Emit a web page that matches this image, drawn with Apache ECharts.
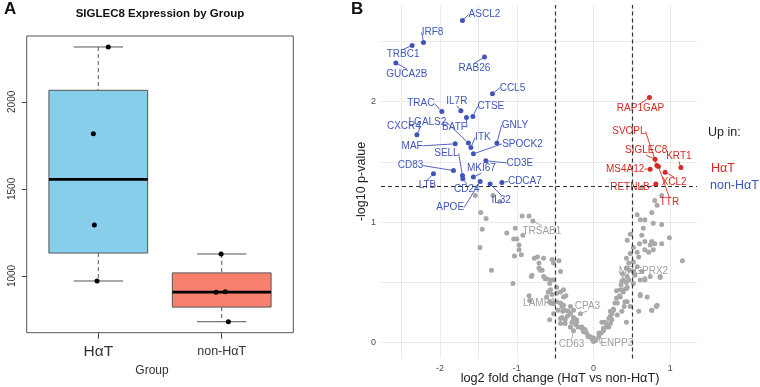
<!DOCTYPE html>
<html>
<head>
<meta charset="utf-8">
<script src="https://cdn.jsdelivr.net/npm/echarts@6/dist/echarts.min.js"></script>
<style>
html, body { margin: 0; padding: 0; background: #fff; }
#main { width: 760px; height: 387px; }
</style>
</head>
<body>
<div id="main"></div>
<script>
// ---- panel A: boxplot ----
var groups = ['HαT', 'non-HαT'];
var groupPos = [1, 2];
// min, lower hinge, median, upper hinge, max
var boxStats = [
    [971, 1131.5, 1554.5, 2066, 2315],
    [737, 821, 907, 1017.5, 1126]
];
var boxColors = ['#87CEEB', '#F7806F'];
var hatValues = [2315, 1817, 1292, 971];
var hatJitter = [1.081, 0.960, 0.968, 0.990];
var nonHatValues = [1126, 907, 909, 737];
var nonHatJitter = [1.995, 1.954, 2.029, 2.054];
var boxTicks = [1000, 1500, 2000];

// ---- panel B: volcano ----
var downGenes = ['ASCL2', 'IRF8', 'TRBC1', 'GUCA2B', 'RAB26', 'CCL5', 'TRAC', 'IL7R', 'CTSE', 'BATF',
    'LGALS2', 'CXCR4', 'MAF', 'ITK', 'GNLY', 'SPOCK2', 'SELL', 'CD3E', 'CD83', 'MKI67',
    'LTB', 'CD24', 'CDCA7', 'IL32', 'APOE'];
var downLogFC = [-1.708, -2.216, -2.364, -2.576, -1.421, -1.317, -1.977, -1.729, -1.572, -1.656,
    -1.630, -2.302, -1.803, -1.598, -1.259, -1.565, -1.708, -1.403, -1.825, -1.565,
    -2.086, -1.703, -1.194, -1.347, -1.477];
var downLogP = [2.672, 2.490, 2.465, 2.319, 2.368, 2.064, 1.917, 1.923, 1.876, 1.867,
    1.655, 1.724, 1.649, 1.618, 1.655, 1.566, 1.386, 1.508, 1.427, 1.373,
    1.400, 1.359, 1.328, 1.315, 1.336];

var upGenes = ['RAP1GAP', 'SIGLEC8', 'SVOPL', 'TTR', 'MS4A12', 'XCL2', 'KRT1', 'RETNLB'];
var upLogFC = [0.730, 0.804, 0.827, 0.847, 0.739, 0.935, 1.140, 0.814];
var upLogP = [2.033, 1.522, 1.469, 1.461, 1.439, 1.414, 1.452, 1.315];

var nsGenes = ['TRSAB1', 'LAMP1', 'CPA3', 'CD63', 'ENPP3', 'MRGPRX2'];
var nsGeneLogFC = [-0.79, -0.56, -0.17, -0.26, 0.07, 0.43];
var nsGeneLogP = [1.01, 0.33, 0.24, 0.10, 0.05, 0.50];

var greyLogFC = [-1.54, -1.31, -1.22, -1.47, -1.40, -1.45, -1.48, -1.33, -1.05,
    -0.93, -0.84, -1.13, -1.02, -1.04, -1.00, -0.92, -0.97, -0.97, -0.94, -1.03,
    -0.77, -0.73, -0.65, -0.71, -0.71, -0.67, -0.81, -0.65, -0.61,
    -0.54, -0.52, -0.45, -0.43, -0.52, -0.57, -0.56, -0.48, -0.39, -0.36,
    -0.84, -0.83, -0.61, -0.57, -0.52, -0.43, -0.46, -0.40, -0.39, -0.30, -0.26,
    -0.34, -0.41, -0.57, -0.26, -0.22, -0.28, -0.23, -0.20, -0.15, -0.11, -0.09, -0.04, -0.02, 0.00, -0.07, -0.13, -0.30, -0.43, -0.37, -0.33, -0.48,
    -0.80, -0.69, -0.63, -0.56, -0.59, -0.54, -0.43, -0.39, -0.48, -0.41, -0.37, -0.30, -0.26, -0.22, -0.15, -0.11, -0.07, -0.02, -0.52, -0.43, -0.37, -0.30,
    0.03, 0.10, 0.13, 0.17, 0.15, 0.22, 0.20, 0.24, 0.26, 0.22, 0.28, 0.30, 0.34, 0.30, 0.35, 0.39, 0.36, 0.43, 0.31, 0.37, 0.43, 0.40, 0.44,
    0.39, 0.44, 0.38, 0.43, 0.47, 0.46, 0.43, 0.48, 0.44, 0.48, 0.52, 0.57, 0.59, 0.52, 0.57, 0.54, 0.61, 0.63, 0.67, 0.61, 0.52,
    0.57, 0.61, 0.67, 0.76, 0.78, 0.65, 0.63, 0.60, 0.67, 0.74, 0.76, 0.67, 0.72, 0.78, 0.80, 0.89, 0.89, 0.99, 0.83, 0.89, 0.80, 1.16, 0.82, 0.76, 0.87, 0.70, 0.63, 0.52,
    0.00, 0.07, 0.13, 0.17, 0.22, 0.26, 0.31, 0.35, 0.39, 0.44, 0.46, 0.37, 0.41, 0.48, 0.61, 0.59, 0.76, 0.83, 0.67, 0.74, 0.87, 0.20, 0.11, 0.24];
var greyLogP = [1.22, 1.22, 1.17, 1.08, 1.03, 0.94, 0.79, 0.60, 0.49,
    1.05, 1.05, 0.91, 0.95, 0.86, 0.86, 0.89, 0.81, 0.77, 0.73, 0.72,
    0.70, 0.71, 0.70, 0.66, 0.62, 0.60, 0.55, 0.55, 0.53,
    0.69, 0.66, 0.68, 0.59, 0.52, 0.49, 0.44, 0.46, 0.44, 0.39,
    0.39, 0.35, 0.38, 0.34, 0.33, 0.33, 0.27, 0.26, 0.31, 0.30, 0.27,
    0.22, 0.21, 0.19, 0.21, 0.19, 0.17, 0.15, 0.13, 0.12, 0.10, 0.08, 0.05, 0.03, 0.01, 0.05, 0.09, 0.13, 0.16, 0.19, 0.26, 0.41,
    0.56, 0.60, 0.53, 0.52, 0.42, 0.40, 0.42, 0.38, 0.34, 0.30, 0.27, 0.24, 0.20, 0.17, 0.13, 0.11, 0.06, 0.04, 0.24, 0.20, 0.16, 0.13,
    0.02, 0.08, 0.10, 0.13, 0.17, 0.16, 0.20, 0.24, 0.28, 0.26, 0.33, 0.37, 0.39, 0.43, 0.44, 0.44, 0.48, 0.45, 0.23, 0.26, 0.17, 0.30, 0.34,
    0.52, 0.55, 0.57, 0.62, 0.60, 0.66, 0.70, 0.74, 0.85, 0.90, 0.79, 0.75, 0.71, 0.67, 0.63, 0.56, 0.52, 0.59, 0.52, 0.39, 0.49,
    1.06, 1.02, 1.02, 1.08, 0.99, 0.95, 0.89, 0.82, 0.84, 0.81, 0.84, 0.77, 0.75, 0.77, 0.82, 0.98, 0.82, 0.87, 1.14, 1.22, 1.18, 0.68, 0.30, 0.27, 0.54, 0.38, 1.29, 0.59,
    0.04, 0.08, 0.12, 0.16, 0.22, 0.27, 0.33, 0.38, 0.42, 0.46, 0.52, 0.51, 0.34, 0.30, 0.40, 0.26, 0.27, 0.31, 0.53, 0.55, 0.55, 0.13, 0.17, 0.19];

var fcCutoffs = [-0.5, 0.5];
var pCutoff = 1.301;
var volcanoXTicks = [-2.5, -2, -1.5, -1, -0.5, 0, 0.5, 1];
var volcanoXLabels = [-2, -1, 0, 1];
var volcanoYTicks = [0, 0.5, 1, 1.5, 2, 2.5];
var volcanoYLabels = [0, 1, 2];

// label nudges in pixels (label centre relative to point)
var nudge = {
    ASCL2: [22, -6], IRF8: [9, -10], TRBC1: [-9, 9], GUCA2B: [11, 11], RAB26: [-10, 11],
    CCL5: [20, -6], TRAC: [-21, -8], IL7R: [-4, -10], CTSE: [18, -10], BATF: [-12, 10],
    LGALS2: [-41, -21], CXCR4: [-13, -9], MAF: [-43, 2], ITK: [12, -10], GNLY: [18, -18],
    SPOCK2: [49, -10], SELL: [-16, -22], CD3E: [34, 2], CD83: [-43, -5], MKI67: [8, -9],
    LTB: [-6, 11], CD24: [4, 10], CDCA7: [23, -1], IL32: [11, 16], APOE: [-30, 26],
    RAP1GAP: [-9, 11], SVOPL: [-28, -34], SIGLEC8: [-9, -9], KRT1: [-2, -11], MS4A12: [-25, 0],
    XCL2: [9, 10], RETNLB: [-26, 3], TTR: [11, 36],
    TRSAB1: [9, 10], LAMP1: [-11, 0], CPA3: [7, -8], CD63: [-2, 14], ENPP3: [18, 7], MRGPRX2: [17, -11]
};

var BLUE = '#3F55BA';
var RED = '#D42A24';
var GREY = '#A8A8A8';
var FONT = 'Liberation Sans, Arial, sans-serif';

function zip(xs, ys, names) {
    return xs.map(function (x, i) {
        return names ? { name: names[i], value: [x, ys[i]] } : [x, ys[i]];
    });
}

function labelledSeries(xs, ys, names, color, textColor) {
    return {
        type: 'scatter', xAxisIndex: 1, yAxisIndex: 1,
        data: zip(xs, ys, names),
        symbolSize: 5,
        itemStyle: { color: color, opacity: 1 },
        label: {
            show: true, position: 'inside', formatter: '{b}',
            color: textColor, fontSize: 10, fontFamily: FONT,
            align: 'center', verticalAlign: 'middle'
        },
        labelLine: { show: true, lineStyle: { color: textColor, width: 0.9 } },
        labelLayout: function (p) {
            var n = nudge[p.text] || [0, 0];
            return { dx: n[0], dy: n[1] };
        },
        emphasis: { disabled: true }
    };
}

var chart = echarts.init(document.getElementById('main'));

var option = {
    animation: false,
    textStyle: { fontFamily: FONT },
    grid: [
        { left: 26.7, top: 36, width: 266.6, height: 296.7, show: true, borderColor: '#555', borderWidth: 1, backgroundColor: 'transparent' },
        { left: 381, top: 5, width: 316, height: 353.4, show: false }
    ],
    xAxis: [{
        type: 'value', gridIndex: 0, min: 0.42, max: 2.58,
        axisLine: { show: false },
        axisTick: { show: true, customValues: groupPos, length: 6, lineStyle: { color: '#444' } },
        splitLine: { show: false },
        axisLabel: {
            customValues: groupPos, margin: 10,
            formatter: function (v) {
                return v === 1 ? '{a|' + groups[0] + '}' : '{b|' + groups[1] + '}';
            },
            rich: {
                a: { fontSize: 15.5, color: '#333', lineHeight: 18, fontFamily: FONT },
                b: { fontSize: 12.5, color: '#333', lineHeight: 18, fontFamily: FONT }
            }
        }
    }, {
        type: 'value', gridIndex: 1, min: -2.77, max: 1.35,
        axisLine: { show: false },
        axisTick: { show: false, customValues: volcanoXTicks },
        splitLine: { show: true, lineStyle: { color: '#EBEBEB', width: 1 } },
        axisLabel: { customValues: volcanoXLabels, color: '#4D4D4D', fontSize: 9, margin: 6 }
    }],
    yAxis: [{
        type: 'value', gridIndex: 0, min: 674, max: 2378,
        axisLine: { show: false },
        axisTick: { show: true, customValues: boxTicks, length: 5, lineStyle: { color: '#444' } },
        splitLine: { show: false },
        axisLabel: {
            customValues: boxTicks, rotate: 90, fontSize: 10, color: '#333', margin: 9,
            formatter: function (v) { return String(v); }
        }
    }, {
        type: 'value', gridIndex: 1, min: -0.13, max: 2.80,
        axisLine: { show: false },
        axisTick: { show: false, customValues: volcanoYTicks },
        splitLine: { show: true, lineStyle: { color: '#EBEBEB', width: 1 } },
        axisLabel: { customValues: volcanoYLabels, color: '#4D4D4D', fontSize: 9, margin: 5 }
    }],
    series: [{
        type: 'custom', xAxisIndex: 0, yAxisIndex: 0,
        data: groupPos.map(function (p, i) { return [p].concat(boxStats[i]); }),
        encode: { x: 0, y: [1, 2, 3, 4, 5] },
        renderItem: function (params, api) {
            var x = api.value(0);
            var lo = api.value(1), q1 = api.value(2), med = api.value(3), q3 = api.value(4), hi = api.value(5);
            var tl = api.coord([x - 0.4, q3]);
            var br = api.coord([x + 0.4, q1]);
            var mL = api.coord([x - 0.4, med]), mR = api.coord([x + 0.4, med]);
            var top = api.coord([x, hi]), bot = api.coord([x, lo]);
            var up = api.coord([x, q3]), dn = api.coord([x, q1]);
            var sTL = api.coord([x - 0.2, hi]), sTR = api.coord([x + 0.2, hi]);
            var sBL = api.coord([x - 0.2, lo]), sBR = api.coord([x + 0.2, lo]);
            var whisk = { stroke: '#555', lineWidth: 1, lineDash: [4, 3] };
            var solid = { stroke: '#555', lineWidth: 1 };
            return {
                type: 'group',
                children: [
                    { type: 'line', shape: { x1: top[0], y1: top[1], x2: up[0], y2: up[1] }, style: whisk },
                    { type: 'line', shape: { x1: dn[0], y1: dn[1], x2: bot[0], y2: bot[1] }, style: whisk },
                    { type: 'line', shape: { x1: sTL[0], y1: sTL[1], x2: sTR[0], y2: sTR[1] }, style: solid },
                    { type: 'line', shape: { x1: sBL[0], y1: sBL[1], x2: sBR[0], y2: sBR[1] }, style: solid },
                    { type: 'rect', shape: { x: tl[0], y: tl[1], width: br[0] - tl[0], height: br[1] - tl[1] },
                      style: { fill: boxColors[params.dataIndex], stroke: '#555', lineWidth: 1 } },
                    { type: 'line', shape: { x1: mL[0], y1: mL[1], x2: mR[0], y2: mR[1] },
                      style: { stroke: '#000', lineWidth: 2.6 } }
                ]
            };
        }
    }, {
        type: 'scatter', xAxisIndex: 0, yAxisIndex: 0,
        data: zip(hatJitter, hatValues).concat(zip(nonHatJitter, nonHatValues)),
        symbolSize: 5, itemStyle: { color: '#000', opacity: 1 }, z: 5
    }, {
        type: 'scatter', xAxisIndex: 1, yAxisIndex: 1,
        data: zip(greyLogFC, greyLogP),
        symbolSize: 5, itemStyle: { color: GREY, opacity: 1 },
        markLine: {
            silent: true, symbol: 'none', label: { show: false },
            lineStyle: { color: '#333', type: [4, 3], width: 1.2 },
            data: fcCutoffs.map(function (v) { return { xAxis: v }; }).concat([{ yAxis: pCutoff }])
        }
    },
    labelledSeries(nsGeneLogFC, nsGeneLogP, nsGenes, GREY, '#A0A0A0'),
    labelledSeries(downLogFC, downLogP, downGenes, BLUE, BLUE),
    labelledSeries(upLogFC, upLogP, upGenes, RED, RED)
    ],
    graphic: [
        { type: 'text', left: 4, top: 1, style: { text: 'A', font: 'bold 17px ' + FONT, fill: '#111' } },
        { type: 'text', x: 160, y: 13.5, style: { text: 'SIGLEC8 Expression by Group', font: 'bold 11.5px ' + FONT, fill: '#111', textAlign: 'center', textVerticalAlign: 'middle' } },
        { type: 'text', x: 152, y: 371, style: { text: 'Group', font: '12px ' + FONT, fill: '#333', textAlign: 'center', textVerticalAlign: 'middle' } },
        { type: 'text', left: 351, top: 1, style: { text: 'B', font: 'bold 17px ' + FONT, fill: '#111' } },
        { type: 'text', x: 362, y: 181.5, rotation: Math.PI / 2, style: { text: '-log10 p-value', font: '12.5px ' + FONT, fill: '#222', textAlign: 'center', textVerticalAlign: 'middle' } },
        { type: 'text', x: 560, y: 378.5, style: { text: 'log2 fold change (HαT vs non-HαT)', font: '12.7px ' + FONT, fill: '#222', textAlign: 'center', textVerticalAlign: 'middle' } },
        { type: 'text', x: 708, y: 133, style: { text: 'Up in:', font: '12.5px ' + FONT, fill: '#222', textVerticalAlign: 'middle' } },
        { type: 'text', x: 711, y: 169, style: { text: 'HαT', font: '12.5px ' + FONT, fill: RED, textVerticalAlign: 'middle' } },
        { type: 'text', x: 710, y: 186, style: { text: 'non-HαT', font: '12.5px ' + FONT, fill: BLUE, textVerticalAlign: 'middle' } }
    ]
};

chart.setOption(option);
</script>
</body>
</html>
